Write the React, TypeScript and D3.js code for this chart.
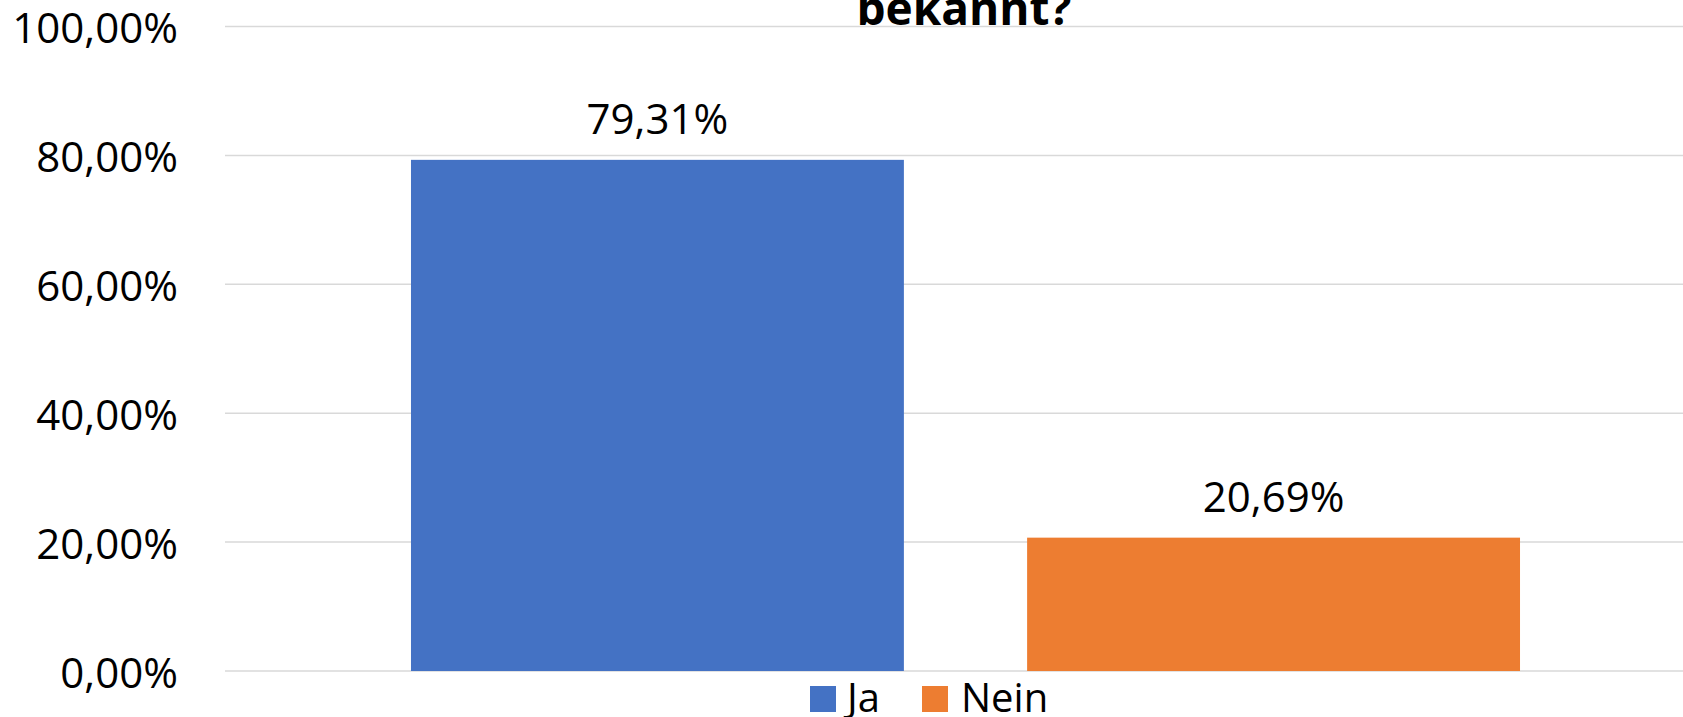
import * as d3 from 'd3';

// Chart data
const categories = ['Frage'];
const seriesNames = ['Ja', 'Nein'];
const seriesValues = [79.31, 20.69];
const seriesColors = ['#4472C4', '#ED7D31'];
const yTicks = [0, 20, 40, 60, 80, 100];
const titleLine = 'bekannt?';

const fmt = (v: number) => v.toFixed(2).replace('.', ',') + '%';

export default function App() {
  const width = 1683;
  const height = 717;
  const margin = { top: 26.5, right: -23, bottom: 46, left: 225 };
  const plotRight = width - margin.right;
  const plotBottom = height - margin.bottom;

  const y = d3.scaleLinear().domain([0, 100]).range([plotBottom, margin.top]);
  const x0 = d3.scaleBand<string>().domain(categories).range([margin.left, plotRight]).paddingInner(0).paddingOuter(0.1677);
  const x1 = d3.scaleBand<string>().domain(seriesNames).range([0, x0.bandwidth()]).paddingInner(0.2).paddingOuter(0);

  const font = '"Open Sans", sans-serif';

  // legend layout
  const legendItems = [
    { name: seriesNames[0], color: seriesColors[0], sq: 810, tx: 847 },
    { name: seriesNames[1], color: seriesColors[1], sq: 922, tx: 961 },
  ];

  return (
    <>
      <style>{`body{margin:0}`}</style>
      <svg width={width} height={height} style={{ display: 'block', overflow: 'hidden', background: '#fff' }}>
        {/* gridlines */}
        {yTicks.map((t) => (
          <line key={t} x1={margin.left} x2={plotRight} y1={y(t)} y2={y(t)} stroke="#d9d9d9" strokeWidth={1.5} />
        ))}
        {/* y tick labels */}
        {yTicks.map((t) => (
          <text key={'l' + t} x={178} y={y(t)} textAnchor="end" dominantBaseline="central" fontFamily={font} fontSize={42} fill="#000">
            {fmt(t)}
          </text>
        ))}
        {/* bars */}
        {categories.map((c) => (
          <g key={c} transform={`translate(${x0(c)},0)`}>
            {seriesNames.map((s, i) => (
              <g key={s}>
                <rect x={x1(s)} y={y(seriesValues[i])} width={x1.bandwidth()} height={plotBottom - y(seriesValues[i])} fill={seriesColors[i]} />
                <text x={(x1(s) || 0) + x1.bandwidth() / 2} y={y(seriesValues[i]) - 26} textAnchor="middle" fontFamily={font} fontSize={42} fill="#000">
                  {fmt(seriesValues[i])}
                </text>
              </g>
            ))}
          </g>
        ))}
        {/* title (cut off at top) */}
        <text x={964} y={25} textAnchor="middle" fontFamily={font} fontWeight="bold" fontSize={46} fill="#000">
          {titleLine}
        </text>
        {/* legend */}
        {legendItems.map((d) => (
          <g key={d.name}>
            <rect x={d.sq} y={686} width={26} height={26} fill={d.color} />
            <text x={d.tx} y={712} fontFamily={font} fontSize={40} fill="#000">
              {d.name}
            </text>
          </g>
        ))}
      </svg>
    </>
  );
}
